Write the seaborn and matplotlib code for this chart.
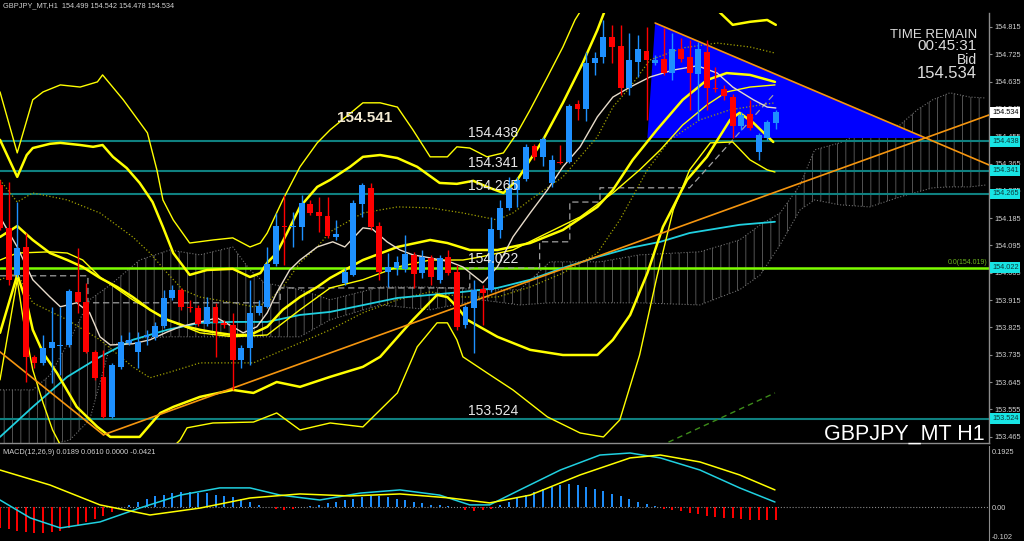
# GBPJPY H1 chart (MT4 style) with bands, ichimoku cloud, trend lines and MACD pane.
import numpy as np
import matplotlib
matplotlib.use("Agg")
import matplotlib.pyplot as plt
import seaborn as sns
from matplotlib.transforms import blended_transform_factory

# --- 1. DATA ---
# Hourly candles, bar 0 = leftmost visible bar.
opens = [
    154.294, 154.153, 153.998, 154.090, 153.728, 153.708, 153.757, 153.764, 153.767, 153.942,
    153.909, 153.744, 153.662, 153.530, 153.695, 153.774, 153.744, 153.794, 153.794, 153.830,
    153.922, 153.949, 153.893, 153.889, 153.836, 153.893, 153.840, 153.833, 153.718, 153.757,
    153.873, 153.893, 154.034, 154.159, 154.156, 154.156, 154.232, 154.205, 154.192, 154.123,
    153.972, 153.998, 154.232, 154.285, 154.159, 154.008, 154.021, 154.018, 154.064, 154.004,
    154.054, 153.982, 154.057, 154.008, 153.833, 153.889, 153.952, 153.949, 154.146, 154.219,
    154.278, 154.314, 154.423, 154.387, 154.301, 154.370, 154.370, 154.561, 154.545, 154.696,
    154.716, 154.782, 154.752, 154.614, 154.700, 154.736, 154.696, 154.710, 154.663, 154.743,
    154.716, 154.660, 154.733, 154.614, 154.611, 154.584, 154.489, 154.528, 154.403, 154.449,
    154.499]
highs = [
    154.311, 154.304, 154.238, 154.136, 153.734, 153.800, 153.893, 153.893, 153.952, 154.087,
    153.972, 153.751, 153.751, 153.708, 153.800, 153.810, 153.810, 153.817, 153.843, 153.949,
    153.965, 153.955, 153.916, 153.899, 153.925, 153.906, 153.850, 153.873, 153.767, 153.982,
    153.916, 154.090, 154.202, 154.262, 154.205, 154.262, 154.245, 154.255, 154.255, 154.179,
    154.021, 154.245, 154.301, 154.301, 154.173, 154.070, 154.061, 154.130, 154.074, 154.080,
    154.064, 154.064, 154.080, 154.031, 153.899, 153.982, 153.965, 154.189, 154.245, 154.321,
    154.321, 154.430, 154.430, 154.453, 154.393, 154.426, 154.561, 154.575, 154.733, 154.733,
    154.838, 154.822, 154.822, 154.795, 154.789, 154.815, 154.723, 154.812, 154.795, 154.779,
    154.772, 154.766, 154.772, 154.683, 154.624, 154.594, 154.535, 154.575, 154.466, 154.509,
    154.542]
lows = [
    154.146, 153.965, 153.991, 153.645, 153.691, 153.701, 153.642, 153.668, 153.761, 153.873,
    153.741, 153.652, 153.527, 153.527, 153.688, 153.767, 153.691, 153.767, 153.784, 153.823,
    153.916, 153.883, 153.876, 153.830, 153.830, 153.728, 153.823, 153.619, 153.691, 153.701,
    153.866, 153.889, 154.028, 154.031, 154.090, 154.113, 154.196, 154.140, 154.120, 154.113,
    153.965, 153.995, 154.189, 154.146, 153.982, 153.958, 153.998, 154.008, 153.955, 153.988,
    153.965, 153.972, 153.998, 153.817, 153.823, 153.741, 153.833, 153.942, 154.120, 154.212,
    154.222, 154.308, 154.377, 154.357, 154.288, 154.364, 154.367, 154.509, 154.505, 154.657,
    154.696, 154.696, 154.591, 154.591, 154.650, 154.509, 154.690, 154.657, 154.640, 154.700,
    154.542, 154.509, 154.542, 154.601, 154.575, 154.449, 154.476, 154.476, 154.377, 154.443,
    154.478]
closes = [
    154.153, 153.982, 154.087, 153.728, 153.708, 153.757, 153.777, 153.767, 153.945, 153.909,
    153.744, 153.658, 153.530, 153.701, 153.777, 153.784, 153.777, 153.800, 153.830, 153.922,
    153.949, 153.893, 153.889, 153.836, 153.893, 153.840, 153.833, 153.718, 153.757, 153.873,
    153.896, 154.034, 154.159, 154.156, 154.159, 154.235, 154.202, 154.192, 154.126, 154.133,
    154.008, 154.235, 154.294, 154.156, 154.008, 154.024, 154.041, 154.067, 154.001, 154.057,
    153.991, 154.054, 154.004, 153.827, 153.893, 153.949, 153.939, 154.149, 154.219, 154.285,
    154.311, 154.420, 154.387, 154.446, 154.377, 154.367, 154.555, 154.545, 154.696, 154.713,
    154.782, 154.749, 154.614, 154.706, 154.743, 154.706, 154.706, 154.663, 154.743, 154.710,
    154.663, 154.743, 154.614, 154.611, 154.588, 154.489, 154.525, 154.482, 154.459, 154.502,
    154.534]

# Band lines (bar position, price)
band_up3_x = [0, 2.0, 3.8, 5.0, 7.0, 9.3, 11.3, 11.9, 14.3, 17.1, 18.2, 18.9, 20.1, 22.0, 24.7, 27.0,
              29.0, 30.2, 31.0, 32.8, 34.8, 36.8, 38.3, 42.1, 44.1, 46.1, 47.9, 49.9, 51.9, 53.0,
              54.5, 56.5, 58.4, 60.0, 61.5, 63.5, 65.3, 66.7, 69.6, 74.2, 81.2, 90.0]
band_up3 = [154.601, 154.400, 154.575, 154.601, 154.624, 154.617, 154.634, 154.657, 154.575, 154.466,
            154.344, 154.245, 154.179, 154.103, 154.113, 154.120, 154.090, 154.103, 154.136, 154.245,
            154.354, 154.433, 154.476, 154.565, 154.565, 154.551, 154.476, 154.387, 154.387, 154.420,
            154.416, 154.387, 154.400, 154.466, 154.542, 154.650, 154.749, 154.838, 154.970, 155.069,
            155.069, 155.003]
band_up2_x = [0, 2.0, 3.1, 3.8, 5.8, 7.0, 9.3, 10.8, 11.9, 13.1, 14.7, 16.2, 17.7, 18.9, 20.1, 22.0,
              24.0, 27.0, 29.0, 30.2, 31.0, 32.1, 33.3, 34.8, 36.8, 38.3, 40.6, 42.1, 44.1, 46.1,
              48.4, 51.0, 53.0, 54.9, 56.5, 58.4, 60.0, 61.5, 63.0, 65.3, 67.6, 69.3, 70.1, 74.2,
              80.0, 83.2, 85.0, 87.0, 89.0, 90.0]
band_up2 = [154.443, 154.321, 154.393, 154.416, 154.430, 154.433, 154.426, 154.420, 154.426, 154.387,
            154.350, 154.301, 154.238, 154.156, 154.070, 153.998, 154.014, 154.018, 153.991, 154.004,
            154.038, 154.070, 154.136, 154.222, 154.288, 154.311, 154.354, 154.387, 154.393, 154.383,
            154.354, 154.301, 154.298, 154.308, 154.288, 154.268, 154.311, 154.377, 154.443, 154.565,
            154.696, 154.805, 154.864, 154.953, 154.937, 154.871, 154.822, 154.832, 154.838, 154.822]
mid_fast_x = [0, 2.0, 3.8, 5.8, 7.8, 9.6, 11.6, 13.6, 15.4, 17.4, 19.4, 21.7, 23.2, 25.2, 27.0, 29.0,
              31.0, 32.8, 34.8, 36.8, 38.3, 42.1, 46.1, 49.9, 51.9, 54.5, 57.7, 61.5, 65.3, 69.3,
              71.1, 73.4, 76.2, 79.2, 82.0, 84.3, 87.0, 89.9]
mid_fast = [154.123, 154.159, 154.113, 154.070, 154.047, 154.024, 153.988, 153.958, 153.925, 153.883,
            153.850, 153.827, 153.817, 153.807, 153.800, 153.800, 153.827, 153.883, 153.925, 153.958,
            153.988, 154.047, 154.090, 154.113, 154.103, 154.080, 154.080, 154.103, 154.146, 154.222,
            154.278, 154.377, 154.476, 154.575, 154.640, 154.663, 154.657, 154.634]
mid_slow_x = [0, 2.0, 5.8, 7.8, 9.6, 11.6, 15.4, 19.4, 23.2, 27.0, 31.0, 34.8, 38.3, 42.1, 46.1, 49.9,
              53.7, 55.7, 59.5, 63.5, 67.3, 71.1, 74.2, 76.6, 79.2, 82.0, 84.3, 87.0, 89.9]
mid_slow = [154.047, 154.070, 154.074, 154.070, 154.047, 153.991, 153.916, 153.850, 153.807, 153.794,
            153.800, 153.883, 153.955, 153.982, 154.024, 154.047, 154.047, 154.057, 154.080, 154.136,
            154.189, 154.268, 154.344, 154.410, 154.492, 154.558, 154.601, 154.617, 154.624]
band_lo2_x = [0, 2.0, 3.1, 3.8, 5.0, 6.6, 8.9, 11.3, 12.8, 16.2, 18.6, 20.1, 23.2, 27.0, 29.4, 32.1,
              34.8, 38.3, 42.1, 44.1, 47.9, 50.7, 51.9, 53.0, 54.2, 57.7, 61.5, 65.3, 69.3, 71.1,
              73.1, 75.1, 76.9, 79.7, 82.0, 84.7, 85.8, 87.4, 89.7]
band_lo2 = [153.807, 153.998, 153.906, 153.817, 153.741, 153.675, 153.563, 153.497, 153.464, 153.464,
            153.543, 153.563, 153.596, 153.619, 153.609, 153.645, 153.629, 153.662, 153.695, 153.728,
            153.850, 153.932, 153.925, 153.893, 153.850, 153.794, 153.751, 153.734, 153.734, 153.784,
            153.866, 154.004, 154.156, 154.311, 154.387, 154.509, 154.532, 154.499, 154.436]
band_lo3_x = [0, 2.0, 2.7, 3.8, 5.0, 6.1, 7.0, 9.3, 17.4, 20.9, 21.7, 24.7, 29.4, 32.1, 34.8, 38.3,
              42.1, 46.1, 48.4, 50.7, 51.9, 53.0, 53.7, 56.5, 59.5, 63.5, 67.3, 70.0, 71.9, 74.2,
              76.2, 78.1, 80.0, 82.4, 85.0, 87.0, 89.0, 89.9]
band_lo3 = [153.652, 153.982, 153.850, 153.685, 153.576, 153.487, 153.438, 153.355, 153.355, 153.454,
            153.494, 153.510, 153.513, 153.543, 153.487, 153.510, 153.497, 153.609, 153.761, 153.840,
            153.840, 153.784, 153.728, 153.675, 153.619, 153.530, 153.477, 153.464, 153.520, 153.734,
            153.991, 154.212, 154.344, 154.433, 154.436, 154.377, 154.344, 154.337]
dot_up_x = [0, 2.0, 3.8, 7.8, 11.6, 15.4, 17.4, 19.4, 21.2, 23.2, 27.0, 29.4, 31.0, 32.8, 34.8, 36.8,
            38.3, 42.1, 46.1, 49.9, 53.7, 57.7, 59.5, 61.5, 65.3, 69.3, 71.1, 73.1, 75.4, 79.2,
            83.2, 87.0, 89.9]
dot_up = [154.311, 154.238, 154.268, 154.245, 154.202, 154.123, 154.070, 154.004, 153.949, 153.925,
          153.906, 153.893, 153.906, 153.958, 154.038, 154.090, 154.140, 154.202, 154.222, 154.219,
          154.202, 154.179, 154.202, 154.245, 154.321, 154.453, 154.551, 154.617, 154.706, 154.746,
          154.762, 154.749, 154.729]
dot_lo_x = [0, 2.0, 3.8, 7.8, 11.6, 15.4, 17.4, 19.4, 23.2, 29.4, 31.0, 34.8, 38.3, 42.1, 46.1, 49.9,
            53.7, 57.7, 61.5, 65.3, 69.3, 71.9, 75.1, 77.7, 81.2, 84.7, 88.2, 89.9]
dot_lo = [153.982, 154.004, 153.906, 153.850, 153.784, 153.695, 153.659, 153.675, 153.708, 153.708,
          153.728, 153.774, 153.817, 153.873, 153.916, 153.942, 153.925, 153.925, 153.958, 154.004,
          154.070, 154.179, 154.344, 154.443, 154.509, 154.542, 154.558, 154.565]
ma_short_x = [0, 2.0, 3.8, 5.8, 7.0, 8.9, 10.4, 11.6, 12.8, 15.4, 17.4, 19.4, 20.9, 23.2, 25.2, 27.0,
              28.2, 29.8, 31.0, 32.1, 33.6, 34.8, 36.8, 38.6, 40.0, 42.1, 43.2, 44.9, 46.4, 47.9,
              49.9, 52.2, 53.7, 56.0, 57.7, 59.5, 61.5, 63.5, 65.3, 67.3, 69.3, 71.1, 73.1, 75.4,
              78.1, 80.9, 83.2, 85.0, 87.4, 89.0, 90.0]
ma_short = [154.189, 154.090, 153.982, 153.925, 153.893, 153.906, 153.873, 153.794, 153.767, 153.771,
            153.784, 153.810, 153.827, 153.843, 153.856, 153.827, 153.807, 153.827, 153.873, 153.939,
            154.014, 154.047, 154.090, 154.107, 154.090, 154.153, 154.149, 154.107, 154.080, 154.064,
            154.054, 154.041, 154.024, 153.972, 154.024, 154.123, 154.202, 154.278, 154.354, 154.420,
            154.519, 154.584, 154.617, 154.650, 154.673, 154.687, 154.663, 154.617, 154.575, 154.551,
            154.548]
ma_long_x = [0, 3.8, 7.8, 11.6, 15.4, 19.4, 23.2, 27.0, 31.0, 34.8, 38.3, 46.1, 53.7, 57.7, 61.5, 65.3,
             69.3, 73.1, 76.6, 80.0, 85.8, 89.9]
ma_long = [153.464, 153.563, 153.662, 153.728, 153.784, 153.817, 153.840, 153.843, 153.843, 153.866,
           153.876, 153.922, 153.942, 153.955, 153.982, 154.021, 154.057, 154.087, 154.107, 154.136,
           154.163, 154.173]
kijun_x = [0, 10.2, 10.2, 32.5, 32.5, 54.5, 54.5, 62.6, 62.6, 66.1, 66.1, 69.6, 69.6, 80.0, 89.9]
kijun = [153.995, 153.995, 153.906, 153.906, 153.955, 153.955, 154.021, 154.021, 154.107, 154.107,
         154.238, 154.238, 154.285, 154.285, 154.597]

# Ichimoku cloud edges (shifted 26 bars forward)
cloud_x = [0, 3.8, 5.8, 8.1, 10.4, 12.8, 16.2, 19.7, 23.2, 27.0, 29.0, 30.7, 34.8, 38.3, 44.1, 49.9,
           55.7, 60.3, 63.8, 69.6, 74.2, 81.2, 85.8, 88.2, 90.5, 92.8, 94.5, 97.4, 100.9, 104.4,
           106.4, 108.2, 110.2, 112.5, 114.3]
cloud_top = [153.619, 153.619, 153.668, 153.784, 153.916, 153.965, 154.047, 154.080, 154.064, 154.090,
             154.014, 153.972, 153.949, 153.916, 153.958, 153.958, 153.949, 153.949, 154.041, 154.041,
             154.064, 154.074, 154.113, 154.163, 154.202, 154.294, 154.410, 154.433, 154.476, 154.492,
             154.542, 154.575, 154.598, 154.584, 154.581]
cloud_bot = [153.438, 153.438, 153.438, 153.454, 153.520, 153.767, 153.790, 153.794, 153.794, 153.794,
             153.794, 153.794, 153.794, 153.850, 153.899, 153.883, 153.916, 153.899, 153.906, 153.906,
             153.906, 153.899, 153.949, 153.998, 154.097, 154.212, 154.245, 154.229, 154.222, 154.255,
             154.271, 154.285, 154.288, 154.288, 154.294]

# Hand drawn objects
trend_down_x, trend_down = [-1, 12], [153.767, 153.471]
trend_up_x, trend_up = [12, 116], [153.471, 154.538]
trend_top_x, trend_top = [76, 116], [154.828, 154.345]
triangle_x = [76.0, 75.1, 107.3]
triangle_y = [154.828, 154.449, 154.449]
green_dash_x, green_dash = [75.5, 89.9], [153.420, 153.609]
levels = [154.438, 154.341, 154.265, 153.524]
level_fibo = 154.022
high_mark = 154.541

price_ticks = [154.815, 154.725, 154.635, 154.545, 154.455, 154.365, 154.275, 154.185,
               154.095, 154.005, 153.915, 153.825, 153.735, 153.645, 153.555, 153.465]
bid = 154.534

# MACD(12,26,9) pane
macd_hist = [
    -0.070, -0.075, -0.080, -0.085, -0.090, -0.090, -0.085, -0.080, -0.070, -0.060,
    -0.050, -0.040, -0.030, -0.015, 0.000, 0.010, 0.020, 0.030, 0.040, 0.045,
    0.050, 0.055, 0.055, 0.050, 0.050, 0.045, 0.040, 0.035, 0.030, 0.020,
    0.010, 0.000, -0.005, -0.008, -0.005, 0.000, 0.005, 0.010, 0.015, 0.020,
    0.025, 0.030, 0.035, 0.040, 0.040, 0.035, 0.030, 0.025, 0.020, 0.015,
    0.010, 0.008, 0.004, 0.000, -0.008, -0.012, -0.010, -0.004, 0.008, 0.020,
    0.032, 0.045, 0.055, 0.065, 0.072, 0.078, 0.080, 0.078, 0.072, 0.065,
    0.057, 0.048, 0.040, 0.030, 0.020, 0.012, 0.005, -0.004, -0.008, -0.013,
    -0.018, -0.023, -0.028, -0.032, -0.035, -0.038, -0.040, -0.042, -0.044, -0.043,
    -0.0421]
macd_main_x = [0, 3.5, 7.0, 11.6, 16.2, 20.9, 25.5, 29.0, 32.5, 37.1, 41.8, 46.4, 51.0, 54.5, 56.8,
               60.3, 65.0, 69.6, 73.1, 76.6, 81.2, 85.8, 89.9]
macd_main = [0.026, -0.036, -0.071, -0.050, -0.002, 0.043, 0.068, 0.068, 0.043, 0.026, 0.050, 0.061,
             0.043, 0.009, 0.009, 0.061, 0.130, 0.182, 0.189, 0.172, 0.130, 0.068, 0.019]
macd_signal_x = [0, 5.8, 11.6, 17.4, 23.2, 29.0, 34.8, 40.6, 46.4, 52.2, 56.8, 61.5, 67.3, 73.1, 76.6,
                 81.2, 85.8, 89.9]
macd_signal = [0.130, 0.078, 0.009, -0.026, -0.002, 0.033, 0.047, 0.040, 0.047, 0.033, 0.016, 0.043,
               0.113, 0.172, 0.182, 0.158, 0.113, 0.061]
macd_ticks = [0.1925, 0.0, -0.102]
macd_tick_labels = ["0.1925", "0.00", "-0.102"]

# --- 2. STYLE ---
sns.set_style("dark", {"axes.facecolor": "black", "figure.facecolor": "black"})
plt.rcParams['font.family'] = ['Liberation Sans', 'DejaVu Sans']
plt.rcParams['hatch.linewidth'] = 0.6

BULL, BEAR = '#1e90ff', '#ff0000'
YEL = '#ffff00'
GRID = '#8c8c8c'
TXT = '#d0d0d0'

fig = plt.figure(figsize=(10.24, 5.41), dpi=100, facecolor='black')
ax = fig.add_axes([0, 98 / 541, 989 / 1024, 430 / 541])
ax2 = fig.add_axes([0, 0, 989 / 1024, 95 / 541])
xmax = 114.73

# --- 3. PRICE PANE ---
# cloud hatch + edges
ax.fill_between(cloud_x, cloud_top, cloud_bot, facecolor='none', edgecolor='#606060',
                hatch='||', linewidth=0, zorder=1)
sns.lineplot(x=cloud_x, y=cloud_top, ax=ax, color='#707070', lw=0.8, ls=':', sort=False,
             estimator=None, legend=False, zorder=1)
sns.lineplot(x=cloud_x, y=cloud_bot, ax=ax, color='#707070', lw=0.8, ls=':', sort=False,
             estimator=None, legend=False, zorder=1)

# blue triangle object
ax.fill(triangle_x, triangle_y, color='#0000ff', lw=0, zorder=1.5)

# horizontal levels
for lv in levels:
    ax.axhline(lv, color='#0f8080', lw=1.5, zorder=2)
ax.axhline(level_fibo, color='#7cfc00', lw=1.8, zorder=2)


# indicator lines
def line(x, y, **kw):
    sns.lineplot(x=x, y=y, ax=ax, sort=False, estimator=None, legend=False, **kw)


line(dot_up_x, dot_up, color='#a0a000', lw=0.9, ls=':', zorder=3)
line(dot_lo_x, dot_lo, color='#a0a000', lw=0.9, ls=':', zorder=3)
line(kijun_x, kijun, color='#a0a0a0', lw=0.9, ls=(0, (5, 3)), zorder=3)
line(ma_long_x, ma_long, color='#20d0e0', lw=1.3, zorder=3)
line(band_up3_x, band_up3, color=YEL, lw=1.0, zorder=3)
line(band_lo3_x, band_lo3, color=YEL, lw=1.0, zorder=3)
line(mid_slow_x, mid_slow, color=YEL, lw=1.0, zorder=3)
line(band_up2_x, band_up2, color=YEL, lw=1.8, zorder=3)
line(band_lo2_x, band_lo2, color=YEL, lw=1.8, zorder=3)
line(mid_fast_x, mid_fast, color=YEL, lw=1.8, zorder=3)
line(ma_short_x, ma_short, color='#e8dccb', lw=1.0, zorder=3.5)

# trend lines
for tx, ty in [(trend_down_x, trend_down), (trend_up_x, trend_up), (trend_top_x, trend_top)]:
    line(tx, ty, color='#f5950f', lw=1.2, zorder=4)
line(green_dash_x, green_dash, color='#3d8c1a', lw=1.0, ls=(0, (4, 3)), zorder=4)

# candles
bars = np.arange(len(opens))
o, h, l, c = map(np.array, (opens, highs, lows, closes))
col = np.where(c >= o, BULL, BEAR)
ax.vlines(bars, l, h, colors=col, lw=1.0, zorder=5)
body = np.maximum(np.abs(c - o), 0.0022)
ax.bar(bars, body, bottom=np.minimum(o, c), width=0.68, color=col, lw=0, zorder=6)

ax.set_xlim(0, xmax)
ax.set_ylim(153.444, 154.861)

# level labels
for lv in levels + [level_fibo]:
    ax.annotate(f'{lv:.3f}', (54.3, lv), xytext=(0, 3), textcoords='offset points',
                color='#e8e8e8', fontsize=10, va='baseline', ha='left', zorder=7)
ax.text(39.1, 154.515, f'{high_mark:.3f}', color='#f3ead2', fontsize=11, fontweight='bold',
        va='center', ha='left', zorder=7)
ax.annotate('0.0(154.019)', (114.6, level_fibo), xytext=(0, 1.5), textcoords='offset points',
            color='#6cb41e', fontsize=5, ha='right', va='bottom', zorder=7)

# right price scale
ax.yaxis.tick_right()
ax.set_yticks(price_ticks)
ax.set_yticklabels([f'{t:.3f}' for t in price_ticks])
ax.tick_params(axis='y', color=GRID, labelcolor=TXT, labelsize=5.3, length=2.5, width=0.8, pad=1.5)
# small time ticks along the bottom edge
ax.set_xticks(np.arange(0.45, xmax, 1.36))
ax.tick_params(axis='x', direction='in', color=GRID, length=2.5, width=0.7, labelbottom=False)
for s in ['top', 'left']:
    ax.spines[s].set_visible(False)
for s in ['right', 'bottom']:
    ax.spines[s].set_color(GRID)
    ax.spines[s].set_linewidth(1.0)
ax.grid(False)

# highlighted price boxes on the scale
tr = blended_transform_factory(ax.transAxes, ax.transData)
ax.text(1.003, bid, f'{bid:.3f}', transform=tr, color='black', fontsize=5.3, va='center', ha='left',
        bbox=dict(boxstyle='square,pad=0.25', fc='white', ec='none'), zorder=8, clip_on=False)
for lv in levels + [level_fibo]:
    ax.text(1.003, lv, f'{lv:.3f}', transform=tr, color='#0a3a3a', fontsize=5.3, va='center',
            ha='left', bbox=dict(boxstyle='square,pad=0.25', fc='#18e4e4', ec='none'),
            zorder=8, clip_on=False)

# --- 4. MACD PANE ---
hcol = np.where(np.array(macd_hist) >= 0, BULL, BEAR)
ax2.vlines(bars, 0, macd_hist, colors=hcol, lw=1.4, zorder=2)
ax2.axhline(0, color='#8a8a8a', lw=0.8, ls=':', zorder=1)
sns.lineplot(x=macd_main_x, y=macd_main, ax=ax2, color='#20d0e0', lw=1.1, sort=False,
             estimator=None, legend=False, zorder=3)
sns.lineplot(x=macd_signal_x, y=macd_signal, ax=ax2, color=YEL, lw=1.1, sort=False,
             estimator=None, legend=False, zorder=3)
ax2.set_xlim(0, xmax)
ax2.set_ylim(-0.1162, 0.2133)
ax2.yaxis.tick_right()
ax2.set_yticks(macd_ticks)
ax2.set_yticklabels(macd_tick_labels)
ax2.tick_params(axis='y', color=GRID, labelcolor=TXT, labelsize=5.3, length=0, pad=2)
ax2.set_xticks([])
for s in ['top', 'left', 'bottom']:
    ax2.spines[s].set_visible(False)
ax2.spines['right'].set_color(GRID)
ax2.grid(False)

# --- 5. TEXT OVERLAYS ---
fig.text(0.003, 0.990, 'GBPJPY_MT,H1  154.499 154.542 154.478 154.534', color=TXT,
         fontsize=5.3, va='center', ha='left')
fig.text(0.003, 1 - 453 / 541, 'MACD(12,26,9) 0.0189 0.0610 0.0000 -0.0421', color=TXT,
         fontsize=5.3, va='center', ha='left')
fig.text(977 / 1024, 1 - 34.5 / 541, 'TIME REMAIN', color='#dcdcdc', fontsize=9.5, ha='right', va='center')
fig.text(977 / 1024, 1 - 46.5 / 541, '00:45:31', color='#dcdcdc', fontsize=11, ha='right', va='center')
fig.text(977 / 1024, 1 - 60 / 541, 'Bid', color='#dcdcdc', fontsize=10, ha='right', va='center')
fig.text(977 / 1024, 1 - 73.5 / 541, '154.534', color='#dcdcdc', fontsize=12, ha='right', va='center')
fig.text(985 / 1024, 1 - 434 / 541, 'GBPJPY_MT H1', color='white', fontsize=15.5, ha='right', va='center')

fig.savefig('out.png', dpi=100, facecolor='black')
print("saved out.png")
